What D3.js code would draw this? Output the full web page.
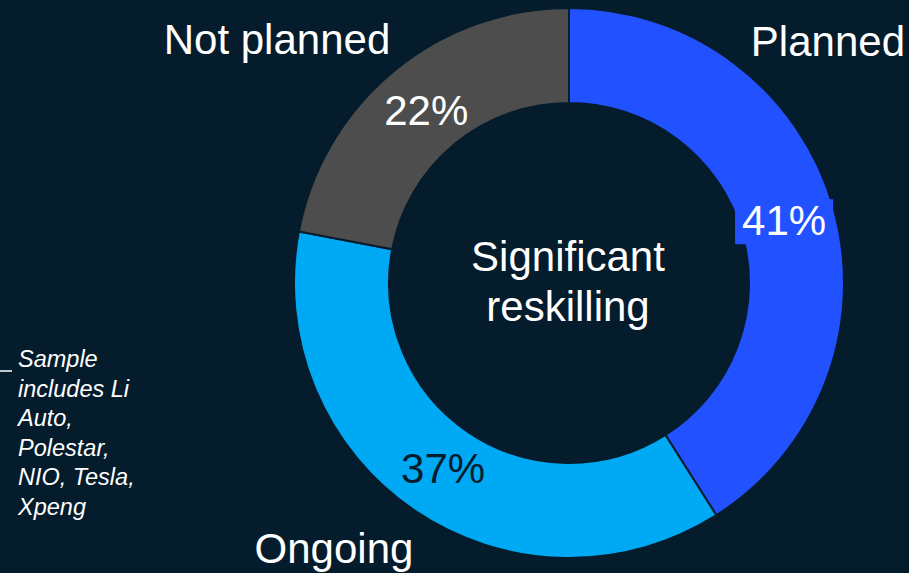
<!DOCTYPE html>
<html>
<head>
<meta charset="utf-8">
<script src="https://d3js.org/d3.v7.min.js"></script>
<style>
  html, body { margin: 0; padding: 0; background: #051c2c; }
  svg { display: block; }
</style>
</head>
<body>
<svg id="chart" width="909" height="573"></svg>
<script>
// data
const categories = ["Planned", "Ongoing", "Not planned"];
const shares = [41, 37, 22];
const sliceColors = ["#2251ff", "#00a9f4", "#4d4d4d"];
const valueColors = ["#ffffff", "#051c2c", "#ffffff"];
const centerLines = ["Significant", "reskilling"];
const noteLines = ["Sample", "includes Li", "Auto,", "Polestar,", "NIO, Tesla,", "Xpeng"];

const bg = "#051c2c";
const svg = d3.select("#chart");
const cx = 569, cy = 283;
const outerR = 275, innerR = 180;

const g = svg.append("g").attr("transform", "translate(" + cx + "," + cy + ")");

const pie = d3.pie().sort(null).value(d => d);
const arcs = pie(shares);
const arc = d3.arc().innerRadius(innerR).outerRadius(outerR);
const labelArc = d3.arc().innerRadius(224).outerRadius(224);

g.selectAll("path.slice").data(arcs)
  .join("path").attr("class", "slice")
  .attr("d", arc)
  .attr("fill", (d, i) => sliceColors[i])
  .attr("stroke", bg)
  .attr("stroke-width", 2);

// percentage labels
const lab = g.selectAll("g.lab").data(arcs).join("g").attr("class", "lab")
  .attr("transform", d => "translate(" + labelArc.centroid(d) + ")");

lab.append("text")
  .attr("text-anchor", "middle")
  .attr("dy", "0.35em")
  .attr("font-family", "Liberation Sans, Arial, sans-serif")
  .attr("font-size", 42)
  .attr("fill", (d, i) => valueColors[i])
  .text(d => d.data + "%");

// only the planned label sticks out into the hole, so it gets a box
lab.filter((d, i) => i === 0).each(function(d, i) {
  const b = d3.select(this).select("text").node().getBBox();
  d3.select(this).insert("rect", "text")
    .attr("x", b.x - 7).attr("y", b.y + 2)
    .attr("width", b.width + 14).attr("height", b.height - 2)
    .attr("fill", sliceColors[0]);
});

// centre text
g.append("text")
  .attr("text-anchor", "middle")
  .attr("font-family", "Liberation Sans, Arial, sans-serif")
  .attr("font-size", 42)
  .attr("fill", "#ffffff")
  .selectAll("tspan").data(centerLines).join("tspan")
  .attr("x", -1)
  .attr("y", (d, i) => -12 + i * 50)
  .text(d => d);

// category labels
const catPos = [
  {x: 905, y: 56, anchor: "end"},
  {x: 334, y: 563, anchor: "middle"},
  {x: 277, y: 54, anchor: "middle"}
];
svg.selectAll("text.cat").data(categories)
  .join("text").attr("class", "cat")
  .attr("x", (d, i) => catPos[i].x)
  .attr("y", (d, i) => catPos[i].y)
  .attr("text-anchor", (d, i) => catPos[i].anchor)
  .attr("font-family", "Liberation Sans, Arial, sans-serif")
  .attr("font-size", 42)
  .attr("fill", "#ffffff")
  .text(d => d);

// footnote
svg.append("line")
  .attr("x1", 0).attr("x2", 12)
  .attr("y1", 371).attr("y2", 371)
  .attr("stroke", "#ffffff").attr("stroke-width", 1.5);

svg.append("text")
  .attr("font-family", "Liberation Sans, Arial, sans-serif")
  .attr("font-size", 23.5)
  .attr("font-style", "italic")
  .attr("fill", "#ffffff")
  .selectAll("tspan").data(noteLines).join("tspan")
  .attr("x", 18)
  .attr("y", (d, i) => 367 + i * 29.5)
  .text(d => d);
</script>
</body>
</html>
